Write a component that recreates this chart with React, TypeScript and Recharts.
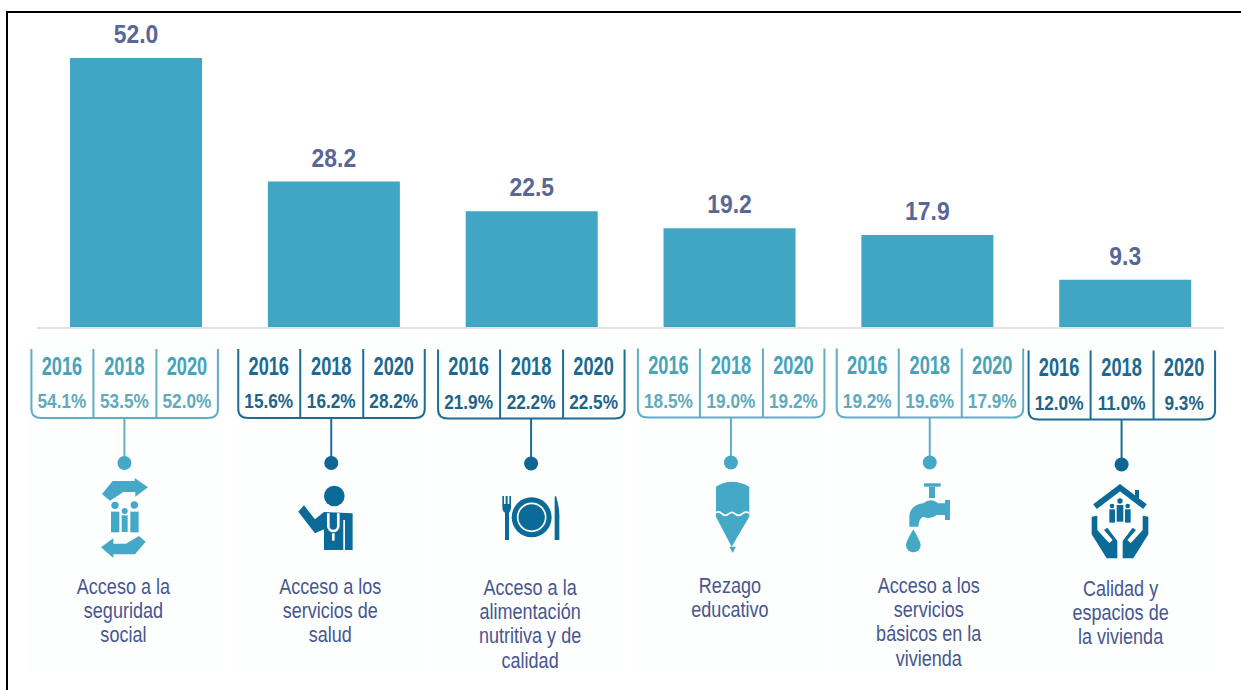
import React from "react"
import { BarChart, Bar, XAxis, YAxis, LabelList } from "recharts"

const categories = [
  "Acceso a la seguridad social",
  "Acceso a los servicios de salud",
  "Acceso a la alimentación nutritiva y de calidad",
  "Rezago educativo",
  "Acceso a los servicios básicos en la vivienda",
  "Calidad y espacios de la vivienda",
]
const values = [52.0, 28.2, 22.5, 19.2, 17.9, 9.3]

const years = ["2016", "2018", "2020"]
const share2016 = [54.1, 15.6, 21.9, 18.5, 19.2, 12.0]
const share2018 = [53.5, 16.2, 22.2, 19.0, 19.6, 11.0]
const share2020 = [52.0, 28.2, 22.5, 19.2, 17.9, 9.3]

const captions = [
  ["Acceso a la", "seguridad", "social"],
  ["Acceso a los", "servicios de", "salud"],
  ["Acceso a la", "alimentación", "nutritiva y de", "calidad"],
  ["Rezago", "educativo"],
  ["Acceso a los", "servicios", "básicos en la", "vivienda"],
  ["Calidad y", "espacios de", "la vivienda"],
]

// layout of the panels under the axis, the original is not quite aligned with the bars
const panelOffset = [-11.5, -2.5, -0.5, 1.5, 2.5, -3.5]
const panelShift = [0, 0, 0.5, -0.5, -0.5, 1.5]
const captionBase = [594, 594, 595, 593, 593, 596]
const darkPanel = [false, true, true, false, false, true]

const BAR_COLOR = "#40a6c3"
const LABEL_COLOR = "#5a6796"
const CAPTION_COLOR = "#47568f"
const FONT = "'Liberation Sans', Arial, sans-serif"

const chartData = categories.map((name, i) => ({ name, value: values[i] }))

function Squish({ x, y, scale, size, weight, fill, children }: any) {
  return (
    <text
      transform={`translate(${x} ${y}) scale(${scale} 1)`}
      textAnchor="middle"
      fontFamily={FONT}
      fontSize={size}
      fontWeight={weight}
      fill={fill}
    >
      {children}
    </text>
  )
}

// icons are traced at 3x, origin is the crop they were read from
function SocialIcon({ c }: any) {
  return (
    <g fill={c} transform="translate(90 470) scale(0.3333)">
      <path d="M36 72 L68 33 L134 33 L134 24 L174 52 L136 80 L136 66 L100 66 L60 92 Z" />
      <circle cx={75} cy={106} r={11} />
      <circle cx={133} cy={105} r={11} />
      <circle cx={104} cy={123} r={9} />
      <rect x={63} y={125} width={25} height={62} />
      <rect x={121} y={125} width={25} height={62} />
      <rect x={95} y={136} width={18} height={50} />
      <path d="M167 215 L135 253 L70 253 L70 264 L33 232 L70 205 L70 221 L108 221 L147 198 Z" />
    </g>
  )
}

function HealthIcon({ c }: any) {
  return (
    <g fill={c} transform="translate(0 320) scale(0.3333)">
      <circle cx={1003} cy={528} r={31} />
      <path d="M895 575 L912 556 L945 598 L972 576 L1058 580 L1058 690 L972 690 L972 628 L945 640 Z" />
      <path d="M985 580 L985 618 A15 15 0 0 0 1015 618 L1015 580" fill="none" stroke="#fff" strokeWidth={8} />
      <rect x={1030} y={600} width={5} height={90} fill="#fff" />
      <rect x={996} y={640} width={8} height={22} fill="#fff" />
    </g>
  )
}

function FoodIcon({ c }: any) {
  return (
    <g fill={c} transform="translate(430 320) scale(0.3333)">
      <circle cx={305} cy={592} r={60} />
      <circle cx={305} cy={592} r={42} fill="none" stroke="#fff" strokeWidth={5} />
      <path d="M217 528 H222 V552 H227 V528 H233 V552 H238 V528 H243 V560 Q243 575 237 578 V660 H225 V578 Q217 575 217 560 Z" />
      <path d="M378 528 Q390 565 388 600 L388 660 L374 660 L374 530 Z" />
    </g>
  )
}

function PencilIcon({ c }: any) {
  return (
    <g fill={c} transform="translate(430 320) scale(0.3333)">
      <path d="M858 500 Q905 470 958 500 L958 590 L905 680 L858 590 Z" />
      <path d="M898 680 H918 L908 698 Z" />
      <path
        d="M858 578 Q868 572 877 582 Q887 590 896 582 Q906 572 916 582 Q926 590 936 582 Q946 572 958 580"
        fill="none"
        stroke="#fff"
        strokeWidth={5}
      />
    </g>
  )
}

function FaucetIcon({ c }: any) {
  return (
    <g fill={c} transform="translate(820 320) scale(0.3333)">
      <rect x={312} y={490} width={50} height={10} />
      <rect x={327} y={500} width={18} height={34} />
      <path d="M268 620 L268 590 Q270 555 310 550 Q332 532 355 550 L375 550 L375 540 L390 540 L390 600 L375 600 L375 585 L350 585 Q330 600 310 590 Q298 592 295 620 Z" />
      <path d="M280 628 Q302 665 302 675 A22 22 0 0 1 258 675 Q258 665 280 628 Z" />
    </g>
  )
}

function HouseIcon({ c }: any) {
  return (
    <g fill={c} transform="translate(1080 475) scale(0.3333)">
      <path d="M45 95 L120 38 L195 95" fill="none" stroke={c} strokeWidth={18} />
      <rect x={165} y={45} width={12} height={32} />
      <circle cx={96} cy={93} r={7} />
      <circle cx={120} cy={78} r={8} />
      <circle cx={143} cy={93} r={7} />
      <rect x={88} y={103} width={17} height={40} />
      <rect x={110} y={90} width={20} height={50} />
      <rect x={135} y={103} width={17} height={40} />
      <path d="M35 125 L52 122 L52 165 L88 205 L98 195 L72 165 L82 158 L112 198 L112 250 L80 250 L35 178 Z" />
      <path d="M205 125 L188 122 L188 165 L152 205 L142 195 L168 165 L158 158 L128 198 L128 250 L160 250 L205 178 Z" />
    </g>
  )
}

const icons = [SocialIcon, HealthIcon, FoodIcon, PencilIcon, FaucetIcon, HouseIcon]

// the whole block under the axis hangs off the category tick
function PanelTick({ x, index }: any) {
  const cx = x + panelOffset[index]
  const dy = panelShift[index]
  const dark = darkPanel[index]
  const line = dark ? "#1c6d94" : "#5fafc4"
  const yearColor = dark ? "#1b6a92" : "#45a3ba"
  const pctColor = dark ? "#1f6488" : "#62aabb"
  const iconColor = dark ? "#0c6a99" : "#45a8c6"
  const dotColor = dark ? "#0f6694" : "#45a8c6"
  const left = cx - 93
  const right = cx + 93.5
  const top = 349 + dy
  const bottom = 418 + dy
  const shares = [share2016[index], share2018[index], share2020[index]]
  const Icon = icons[index]
  return (
    <g>
      <rect x={cx - 97} y={337} width={192} height={335} fill="#fdfefe" />
      <path
        d={`M${left} ${top} V${bottom - 9} Q${left} ${bottom} ${left + 10} ${bottom} H${right - 10} Q${right} ${bottom} ${right} ${bottom - 9} V${top}`}
        fill="none"
        stroke={line}
        strokeWidth={2}
      />
      <line x1={cx - 31} x2={cx - 31} y1={top} y2={bottom} stroke={line} strokeWidth={2} />
      <line x1={cx + 32} x2={cx + 32} y1={top} y2={bottom} stroke={line} strokeWidth={2} />
      <line x1={cx} x2={cx} y1={bottom} y2={bottom + 40} stroke={line} strokeWidth={2} />
      <circle cx={cx} cy={bottom + 45} r={7} fill={dotColor} />
      {years.map((year, i) => (
        <g key={year}>
          <Squish x={cx + (i - 1) * 62.5} y={374.5 + dy} scale={0.7} size={26} weight="bold" fill={yearColor}>
            {year}
          </Squish>
          <Squish x={cx + (i - 1) * 62.5} y={408 + dy} scale={0.82} size={21} weight="bold" fill={pctColor}>
            {shares[i].toFixed(1)}%
          </Squish>
        </g>
      ))}
      <Icon c={iconColor} />
      <Squish x={cx - 1} y={captionBase[index]} scale={0.82} size={22} fill={CAPTION_COLOR}>
        {captions[index].map((text, i) => (
          <tspan key={text} x={0} dy={i === 0 ? 0 : 24.2}>
            {text}
          </tspan>
        ))}
      </Squish>
    </g>
  )
}

function ValueLabel({ x, y, width, value }: any) {
  return (
    <Squish x={x + width / 2} y={y - 15} scale={0.88} size={26} weight="bold" fill={LABEL_COLOR}>
      {Number(value).toFixed(1)}
    </Squish>
  )
}

export default function App() {
  return (
    <div style={{ position: "absolute", left: 0, top: 0, width: 1241, height: 690, background: "#fff", overflow: "hidden" }}>
      <BarChart
        width={1241}
        height={690}
        data={chartData}
        margin={{ top: 58, right: 17, bottom: 0, left: 37 }}
        barCategoryGap="16.7%"
      >
        <YAxis hide domain={[0, 52]} />
        <XAxis
          dataKey="name"
          height={362}
          interval={0}
          tickLine={false}
          axisLine={{ stroke: "#dfe3e4", strokeWidth: 2 }}
          tick={<PanelTick />}
        />
        <Bar dataKey="value" fill={BAR_COLOR} isAnimationActive={false}>
          <LabelList dataKey="value" content={<ValueLabel />} />
        </Bar>
      </BarChart>
      {/* black frame, only left and top survive in the source */}
      <div style={{ position: "absolute", left: 6, top: 11, width: 1235, height: 679, borderLeft: "2px solid #000", borderTop: "2px solid #000" }} />
    </div>
  )
}
